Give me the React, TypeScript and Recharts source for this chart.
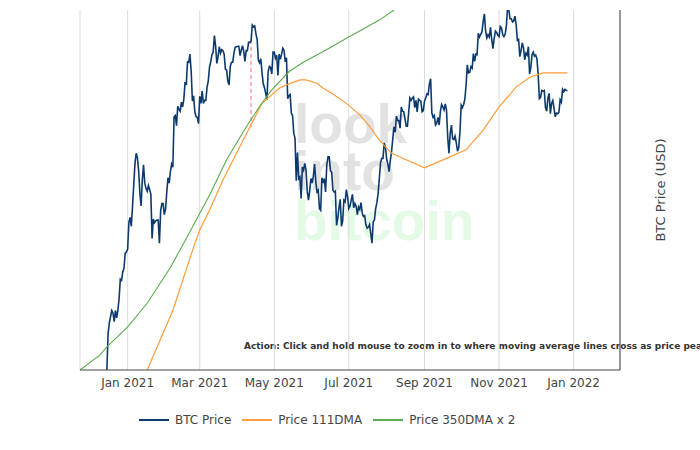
import {
  CartesianGrid,
  Legend,
  Line,
  LineChart,
  ReferenceLine,
  XAxis,
  YAxis,
} from 'recharts'

// BTC daily close, thousands of USD, one array per month
const btcDec2020 = [19.2, 21.8, 22.6, 23.1, 23.6, 23.4, 22.7, 23.6, 23.0, 23.6, 24.6, 26.3, 26.2, 27.0, 27.3, 28.8, 28.9]
const btcJan2021 = [29.2, 32.0, 32.6, 31.6, 33.9, 36.5, 39.3, 40.7, 40.1, 38.3, 35.5, 33.9, 37.1, 39.1, 36.7, 36.1, 35.7, 36.4, 35.9, 35.3, 30.3, 32.4, 32.0, 32.2, 32.3, 32.3, 29.8, 33.3, 34.2, 34.2, 32.9]
const btcFeb2021 = [33.5, 35.5, 37.4, 36.7, 38.2, 39.2, 38.8, 46.2, 46.4, 44.8, 47.9, 47.4, 47.1, 48.6, 47.8, 49.1, 52.1, 51.6, 55.9, 55.8, 57.4, 54.1, 48.8, 49.7, 47.0, 46.2, 46.1, 45.1]
const btcMar2021 = [49.6, 48.4, 50.5, 48.4, 48.9, 48.9, 51.2, 52.3, 54.9, 55.9, 57.3, 57.8, 61.2, 59.0, 55.6, 56.9, 58.9, 57.6, 58.3, 58.1, 57.4, 54.5, 54.3, 52.3, 51.6, 55.0, 55.8, 55.8, 57.6, 58.8, 58.9]
const btcApr2021 = [59.0, 59.0, 57.1, 58.2, 59.1, 58.0, 56.0, 58.1, 58.1, 59.8, 59.8, 60.0, 63.5, 63.1, 63.3, 61.6, 60.4, 56.2, 55.7, 56.5, 53.8, 51.8, 51.1, 50.1, 49.0, 54.0, 55.0, 54.8, 53.6, 57.8]
const btcMay2021 = [57.8, 56.6, 57.2, 53.3, 57.4, 56.4, 57.4, 58.6, 58.2, 55.9, 56.7, 49.2, 49.7, 49.9, 46.8, 46.4, 43.6, 42.9, 37.0, 40.8, 37.3, 37.5, 34.8, 38.8, 38.4, 39.3, 38.4, 35.7, 34.6, 35.7, 37.3]
const btcJun2021 = [36.7, 37.6, 39.2, 36.9, 35.6, 35.8, 33.6, 33.4, 37.4, 36.7, 37.3, 35.6, 39.1, 40.2, 40.2, 38.3, 38.1, 35.8, 35.6, 35.7, 31.7, 32.5, 33.7, 34.7, 31.6, 32.2, 34.6, 34.4, 35.9, 35.0]
const btcJul2021 = [33.6, 33.9, 34.6, 35.3, 33.7, 34.2, 33.9, 32.9, 33.8, 33.5, 34.3, 33.1, 32.7, 32.8, 31.8, 31.4, 31.5, 31.8, 30.8, 29.8, 32.1, 32.3, 33.6, 34.3, 35.4, 37.3, 39.4, 40.0, 40.0, 42.2, 41.6]
const btcAug2021 = [39.9, 39.2, 38.2, 39.7, 40.9, 42.8, 44.6, 43.8, 46.3, 45.6, 45.6, 44.4, 47.8, 47.1, 47.0, 45.9, 44.7, 44.7, 46.8, 49.3, 48.9, 49.3, 49.5, 47.7, 48.9, 47.0, 49.1, 48.9, 48.8, 47.0, 47.2]
const btcSep2021 = [48.8, 49.3, 50.0, 49.9, 51.8, 52.7, 46.8, 46.1, 46.4, 44.9, 45.2, 46.1, 44.9, 47.1, 48.2, 47.8, 47.3, 48.3, 47.3, 43.0, 40.7, 43.6, 44.9, 42.8, 42.7, 43.2, 42.2, 41.0, 41.5, 43.8]
const btcOct2021 = [48.1, 47.7, 48.2, 49.1, 51.5, 55.3, 53.8, 53.9, 55.0, 54.7, 57.5, 56.0, 57.4, 57.3, 61.7, 60.9, 61.5, 62.0, 64.3, 66.0, 62.2, 60.7, 61.4, 60.9, 63.0, 60.4, 58.5, 60.6, 62.2, 61.9, 61.3]
const btcNov2021 = [61.0, 63.2, 62.9, 61.4, 61.0, 61.5, 63.3, 67.6, 66.9, 64.9, 64.9, 64.2, 64.4, 65.5, 63.6, 60.2, 60.4, 56.9, 58.1, 59.7, 58.7, 56.3, 57.6, 57.2, 58.9, 53.6, 54.8, 57.3, 57.8, 57.0]
const btcDec2021 = [57.2, 56.5, 53.6, 49.2, 49.4, 50.6, 50.5, 50.6, 47.7, 47.1, 49.3, 50.1, 46.7, 48.4, 48.9, 47.6, 46.2, 46.8, 46.7, 46.9, 49.0, 48.6, 50.8, 50.4, 50.8, 50.6, 50.6]

// [year, month (0-based), first day, closes]
const btcMonths: [number, number, number, number[]][] = [
  [2020, 11, 15, btcDec2020],
  [2021, 0, 1, btcJan2021],
  [2021, 1, 1, btcFeb2021],
  [2021, 2, 1, btcMar2021],
  [2021, 3, 1, btcApr2021],
  [2021, 4, 1, btcMay2021],
  [2021, 5, 1, btcJun2021],
  [2021, 6, 1, btcJul2021],
  [2021, 7, 1, btcAug2021],
  [2021, 8, 1, btcSep2021],
  [2021, 9, 1, btcOct2021],
  [2021, 10, 1, btcNov2021],
  [2021, 11, 1, btcDec2021],
]

const ma111Dates = ['2021-01-17', '2021-02-07', '2021-02-24', '2021-03-01', '2021-03-09', '2021-03-20', '2021-04-03', '2021-04-21', '2021-05-05', '2021-05-11', '2021-05-22', '2021-05-27', '2021-06-05', '2021-06-10', '2021-06-18', '2021-06-29', '2021-07-10', '2021-07-18', '2021-07-26', '2021-08-05', '2021-08-17', '2021-09-01', '2021-09-19', '2021-10-05', '2021-10-19', '2021-11-01', '2021-11-15', '2021-11-26', '2021-12-07', '2021-12-27']
const ma111Values = [19.2, 23.6, 29.4, 31.2, 33.4, 37.1, 41.7, 48.4, 51.0, 51.6, 52.5, 52.5, 51.9, 51.0, 50.0, 48.4, 46.5, 44.7, 42.6, 40.7, 39.8, 38.7, 40.0, 41.2, 44.1, 47.8, 51.2, 53.0, 53.8, 53.8]

const ma350x2Dates = ['2020-11-23', '2020-12-09', '2020-12-15', '2021-01-01', '2021-01-17', '2021-02-05', '2021-02-15', '2021-03-09', '2021-03-23', '2021-04-08', '2021-04-20', '2021-04-29', '2021-05-13', '2021-05-24', '2021-06-12', '2021-07-01', '2021-07-26', '2021-08-07', '2021-08-20']
const ma350x2Values = [19.2, 20.2, 20.8, 22.3, 24.2, 27.4, 29.6, 35.2, 39.8, 44.6, 48.2, 50.7, 54.0, 55.7, 58.2, 60.9, 64.6, 66.9, 69.0]

const crossDate = '2021-04-12'
const crossRange = [60.3, 44.6]

const tickDates = ['2021-01-01', '2021-03-01', '2021-05-01', '2021-07-01', '2021-09-01', '2021-11-01', '2022-01-01']
const tickLabels = ['Jan 2021', 'Mar 2021', 'May 2021', 'Jul 2021', 'Sep 2021', 'Nov 2021', 'Jan 2022']

const btcData = btcMonths.flatMap(([y, m, d0, closes]) =>
  closes.map((v, i) => ({ t: Date.UTC(y, m, d0 + i), v })),
)
const ma111Data = ma111Dates.map((d, i) => ({ t: Date.parse(d), v: ma111Values[i] }))
const ma350Data = ma350x2Dates.map((d, i) => ({ t: Date.parse(d), v: ma350x2Values[i] }))
const ticks = tickDates.map((d) => Date.parse(d))

const FONT = '"DejaVu Sans", Verdana, sans-serif'
const BTC = '#0c3a6e'
const ORANGE = '#ff9c3b'
const GREEN = '#5aac50'

function LegendRow({ payload }: any) {
  return (
    <div style={{ display: 'flex', alignItems: 'center', height: 30, fontFamily: FONT, fontSize: 12, color: '#444' }}>
      {(payload || []).map((p: any) => (
        <div key={p.value} style={{ display: 'flex', alignItems: 'center', marginRight: 11 }}>
          <span style={{ display: 'inline-block', width: 30, height: 2, background: p.color, marginRight: 6 }} />
          <span>{p.value}</span>
        </div>
      ))}
    </div>
  )
}

export default function App() {
  const crossT = Date.parse(crossDate)
  return (
    <div style={{ position: 'absolute', left: 0, top: 0, width: 700, height: 450, background: '#fff', overflow: 'hidden' }}>
      <svg width={700} height={450} style={{ position: 'absolute', left: 0, top: 0 }}>
        <g fontFamily='"Liberation Sans", Arial, sans-serif' fontWeight="bold" fontSize={55}>
          <text x={294} y={143} fill="#e2e2e2">look</text>
          <text x={294} y={190} fill="#e2e2e2">into</text>
          <text x={294} y={240} fill="#e4f9e6">bitcoin</text>
        </g>
        <text x={244} y={349} fontFamily={FONT} fontWeight="bold" fontSize={9} fill="#333">
          Action: Click and hold mouse to zoom in to where moving average lines cross as price peaks
        </text>
      </svg>
      <div style={{ position: 'absolute', left: 0, top: 0 }}>
        <LineChart width={700} height={450} margin={{ top: 10, right: 20, bottom: 20, left: 80 }}>
          <CartesianGrid horizontal={false} stroke="#dcdcdc" />
          <XAxis
            dataKey="t"
            type="number"
            scale="time"
            domain={[Date.UTC(2020, 10, 23), Date.UTC(2022, 1, 8)]}
            allowDataOverflow
            ticks={ticks}
            tickFormatter={(t: number) => tickLabels[ticks.indexOf(t)] ?? ''}
            tick={{ fontSize: 12, fill: '#444', fontFamily: FONT }}
            tickLine={false}
            axisLine={{ stroke: '#444' }}
            height={30}
          />
          <YAxis
            type="number"
            scale="log"
            domain={[19.2, 66.9]}
            allowDataOverflow
            orientation="right"
            width={60}
            tick={false}
            tickLine={false}
            axisLine={{ stroke: '#444' }}
            label={{
              value: 'BTC Price (USD)',
              angle: -90,
              position: 'center',
              dx: 10,
              style: { fontSize: 13, fill: '#444', fontFamily: FONT },
            }}
          />
          <ReferenceLine
            segment={[
              { x: crossT, y: crossRange[0] },
              { x: crossT, y: crossRange[1] },
            ]}
            stroke="#f5a0a0"
            strokeWidth={1.5}
            strokeDasharray="4 3"
          />
          <Line data={btcData} dataKey="v" name="BTC Price" stroke={BTC} strokeWidth={1.6} dot={false} isAnimationActive={false} />
          <Line data={ma111Data} dataKey="v" name="Price 111DMA" stroke={ORANGE} strokeWidth={1.2} dot={false} isAnimationActive={false} />
          <Line data={ma350Data} dataKey="v" name="Price 350DMA x 2" stroke={GREEN} strokeWidth={1.1} dot={false} isAnimationActive={false} />
          <Legend verticalAlign="bottom" content={LegendRow} wrapperStyle={{ left: 139, bottom: 15, width: 'auto' }} />
        </LineChart>
      </div>
    </div>
  )
}
